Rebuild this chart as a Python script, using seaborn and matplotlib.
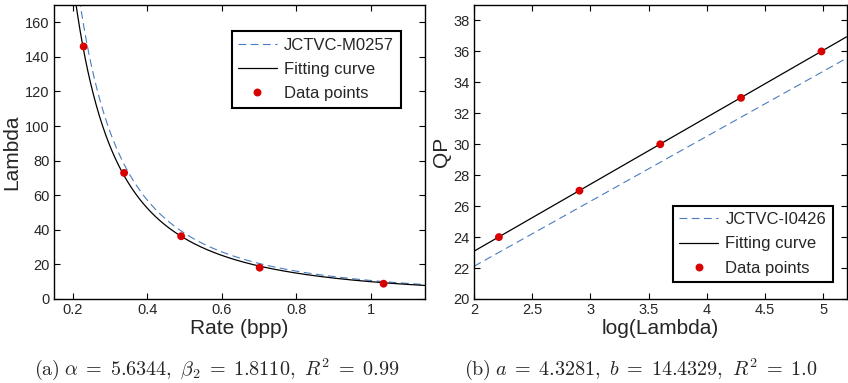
import numpy as np
import pandas as pd
import matplotlib
matplotlib.use("Agg")
import matplotlib.pyplot as plt
from matplotlib.lines import Line2D
import seaborn as sns

# Measured points: rate (bpp) vs. lambda, and log(lambda) vs. QP
rate_bpp = [0.2295, 0.338, 0.491, 0.7016, 1.034]
lambda_vals = [146.0, 72.9, 36.3, 18.1, 8.85]
log_lambda = [2.214, 2.906, 3.600, 4.294, 4.985]
qp_vals = [24, 27, 30, 33, 36]

# R-lambda model: lambda = c * R^(-beta)
fit_c, fit_beta = 10.0, 1.8110          # fitted curve
ref_c, ref_beta = 10.7, 1.83            # JCTVC-M0257 reference curve

# QP-lambda model: QP = a * ln(lambda) + b
fit_a, fit_b = 4.3281, 14.4329          # fitted line
ref_a, ref_b = 4.2005, 13.7122          # JCTVC-I0426 reference line

sns.set_style("ticks")
plt.rcParams["font.family"] = ["Liberation Sans", "DejaVu Sans"]
plt.rcParams["mathtext.fontset"] = "cm"

BLUE = "#4a7cc0"
RED = "#d90000"

fig = plt.figure(figsize=(8.48, 3.83), dpi=100)
ax1 = fig.add_axes([54 / 848, 84 / 383, 371 / 848, 294 / 383])
ax2 = fig.add_axes([474 / 848, 84 / 383, 372.5 / 848, 294 / 383])

# ---- (a) Rate vs. Lambda ----
r = np.linspace(0.15, 1.15, 600)
df_a = pd.DataFrame({
    "r": r,
    "ref": ref_c * r ** (-ref_beta),
    "fit": fit_c * r ** (-fit_beta),
})
sns.lineplot(data=df_a, x="r", y="ref", ax=ax1, color=BLUE, lw=0.8,
             zorder=2).lines[-1].set_dashes((7, 4))
sns.lineplot(data=df_a, x="r", y="fit", ax=ax1, color="black", lw=0.9, zorder=3)
sns.scatterplot(x=rate_bpp, y=lambda_vals, ax=ax1, color=RED, s=32,
                edgecolor="none", zorder=4)
ax1.set_xlim(0.15, 1.145)
ax1.set_ylim(0, 170)
ax1.set_xticks([0.2, 0.4, 0.6, 0.8, 1.0])
ax1.set_xticklabels(["0.2", "0.4", "0.6", "0.8", "1"])
ax1.set_yticks(range(0, 161, 20))
ax1.set_xlabel("Rate (bpp)", fontsize=15, labelpad=1)
ax1.set_ylabel("Lambda", fontsize=15, labelpad=3)

# ---- (b) log(Lambda) vs. QP ----
x = np.linspace(2.0, 5.2, 50)
df_b = pd.DataFrame({"x": x, "ref": ref_a * x + ref_b, "fit": fit_a * x + fit_b})
sns.lineplot(data=df_b, x="x", y="ref", ax=ax2, color=BLUE, lw=0.8,
             zorder=2).lines[-1].set_dashes((7, 4))
sns.lineplot(data=df_b, x="x", y="fit", ax=ax2, color="black", lw=0.9, zorder=3)
sns.scatterplot(x=log_lambda, y=qp_vals, ax=ax2, color=RED, s=32,
                edgecolor="none", zorder=4)
ax2.set_xlim(2, 5.2)
ax2.set_ylim(20, 39)
ax2.set_xticks([2, 2.5, 3, 3.5, 4, 4.5, 5])
ax2.set_xticklabels(["2", "2.5", "3", "3.5", "4", "4.5", "5"])
ax2.set_yticks(range(20, 39, 2))
ax2.set_xlabel("log(Lambda)", fontsize=15, labelpad=1)
ax2.set_ylabel("QP", fontsize=15, labelpad=2)

for ax in (ax1, ax2):
    ax.tick_params(direction="in", length=4, width=0.8, labelsize=10.5,
                   top=True, right=True, pad=3, color="black")
    for s in ax.spines.values():
        s.set_visible(True)
        s.set_linewidth(1.0)
        s.set_color("black")


def legend_handles(ref_name):
    return [
        Line2D([], [], color=BLUE, lw=0.8, dashes=(7, 4), label=ref_name),
        Line2D([], [], color="black", lw=0.9, label="Fitting curve"),
        Line2D([], [], color=RED, lw=0, marker="o", markersize=5.7,
               markeredgewidth=0, label="Data points"),
    ]


leg_kw = dict(fontsize=12, frameon=True, fancybox=False, framealpha=1,
              edgecolor="black", handlelength=2.3, handletextpad=0.45,
              labelspacing=0.55, borderpad=0.4, borderaxespad=0)
leg1 = ax1.legend(handles=legend_handles("JCTVC-M0257"), loc="upper right",
                  bbox_to_anchor=(0.9345, 0.9116), **leg_kw)
leg2 = ax2.legend(handles=legend_handles("JCTVC-I0426"), loc="lower right",
                  bbox_to_anchor=(0.963, 0.057), **leg_kw)
for leg in (leg1, leg2):
    leg.get_frame().set_linewidth(1.5)

cap_a = (r"$\mathrm{(a)}\;\alpha \;=\; 5.6344,\ \beta_2 \;=\; 1.8110,"
         r"\ R^2 \;=\; 0.99$")
cap_b = (r"$\mathrm{(b)}\;a \;=\; 4.3281,\ b \;=\; 14.4329,"
         r"\ R^2 \;=\; 1.0$")
fig.text(217 / 848, 1 - 369 / 383, cap_a, ha="center", va="center", fontsize=14.5)
fig.text(641 / 848, 1 - 369 / 383, cap_b, ha="center", va="center", fontsize=14.5)

fig.savefig("out.png", dpi=100)
